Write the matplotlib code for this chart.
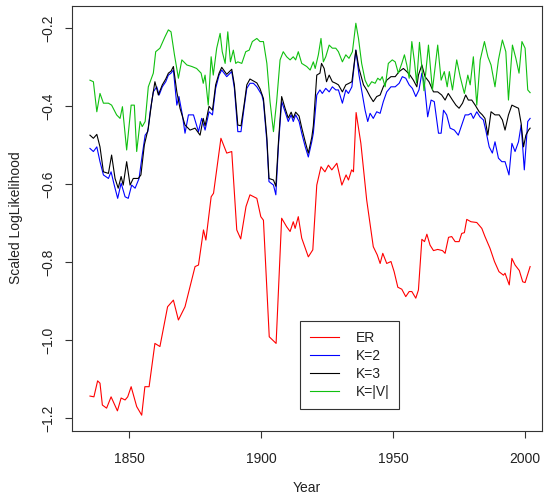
import matplotlib
matplotlib.use("Agg")
import matplotlib.pyplot as plt

plt.rcParams['font.family'] = ['Liberation Sans', 'DejaVu Sans']

# ---- data ----
er_years = [1835.2, 1836.7, 1838.1, 1839.0, 1839.9, 1841.5, 1843.2, 1845.6, 1847.0, 1848.5,
            1849.5, 1850.8, 1852.9, 1854.8, 1856.0, 1857.6, 1859.8, 1861.7, 1864.6, 1866.8,
            1868.7, 1871.2, 1875.0, 1876.3, 1878.2, 1879.1, 1881.1, 1882.0, 1884.8, 1887.0,
            1888.9, 1890.8, 1892.3, 1894.3, 1895.8, 1898.4, 1899.9, 1900.9, 1903.1, 1905.7,
            1907.8, 1909.7, 1911.0, 1912.2, 1912.9, 1914.1, 1915.4, 1917.9, 1919.6, 1921.1,
            1922.7, 1924.2, 1925.5, 1926.8, 1928.7, 1930.6, 1932.2, 1933.1, 1934.3, 1935.0,
            1936.0, 1937.8, 1940.0, 1942.5, 1944.0, 1945.1, 1946.1, 1947.6, 1949.2, 1950.4,
            1951.8, 1953.3, 1954.8, 1956.1, 1957.1, 1958.6, 1959.6, 1960.9, 1961.9, 1962.8,
            1964.0, 1965.3, 1966.9, 1968.7, 1969.7, 1971.0, 1972.2, 1973.5, 1975.0, 1976.0,
            1977.0, 1977.9, 1979.5, 1981.7, 1983.6, 1984.8, 1986.7, 1988.4, 1990.1, 1991.8,
            1992.4, 1994.0, 1995.0, 1996.2, 1997.8, 1999.1, 2000.0, 2001.9]
er_values = [-1.143, -1.145, -1.104, -1.110, -1.166, -1.174, -1.145, -1.181, -1.148, -1.153,
             -1.145, -1.119, -1.170, -1.192, -1.119, -1.119, -1.008, -1.016, -0.914, -0.897,
             -0.948, -0.914, -0.811, -0.807, -0.717, -0.743, -0.632, -0.623, -0.482, -0.520,
             -0.516, -0.717, -0.740, -0.657, -0.627, -0.636, -0.683, -0.692, -0.991, -1.008,
             -0.687, -0.709, -0.721, -0.696, -0.713, -0.683, -0.738, -0.786, -0.768, -0.602,
             -0.555, -0.568, -0.551, -0.563, -0.546, -0.602, -0.576, -0.589, -0.563, -0.568,
             -0.416, -0.495, -0.640, -0.760, -0.781, -0.803, -0.777, -0.803, -0.798, -0.824,
             -0.864, -0.869, -0.888, -0.875, -0.875, -0.892, -0.871, -0.741, -0.747, -0.728,
             -0.756, -0.770, -0.767, -0.770, -0.777, -0.736, -0.734, -0.747, -0.747, -0.726,
             -0.724, -0.690, -0.696, -0.698, -0.713, -0.734, -0.764, -0.798, -0.824, -0.833,
             -0.828, -0.858, -0.790, -0.807, -0.821, -0.850, -0.852, -0.811]

k2_years = [1835.2, 1836.5, 1837.8, 1839.0, 1840.3, 1842.2, 1843.2, 1844.4, 1845.7, 1847.0,
            1848.5, 1849.7, 1851.0, 1852.3, 1853.8, 1855.0, 1856.1, 1857.1, 1858.0, 1859.2,
            1860.5, 1861.4, 1862.6, 1863.9, 1864.9, 1865.9, 1866.8, 1868.1, 1868.9, 1870.2,
            1871.2, 1872.5, 1874.4, 1876.3, 1877.5, 1878.8, 1880.3, 1881.6, 1882.8, 1884.1,
            1885.1, 1887.0, 1888.9, 1889.9, 1891.2, 1892.4, 1893.7, 1894.6, 1895.8, 1897.1,
            1898.4, 1899.6, 1900.3, 1900.9, 1902.2, 1903.0, 1904.7, 1905.6, 1906.6, 1907.8,
            1909.1, 1910.3, 1911.4, 1912.2, 1913.1, 1914.4, 1915.4, 1916.7, 1917.9, 1919.2,
            1919.8, 1921.1, 1922.3, 1923.2, 1924.5, 1925.8, 1927.0, 1928.3, 1929.3, 1930.8,
            1932.1, 1933.1, 1934.4, 1935.9, 1937.1, 1938.4, 1939.4, 1940.4, 1941.3, 1942.5,
            1943.8, 1945.1, 1946.3, 1947.6, 1949.2, 1950.8, 1952.3, 1953.5, 1954.8, 1956.1,
            1957.3, 1958.6, 1959.8, 1960.9, 1961.9, 1963.1, 1964.4, 1965.6, 1967.2, 1968.2,
            1969.1, 1970.3, 1971.6, 1973.2, 1974.7, 1976.0, 1977.3, 1978.5, 1979.5, 1980.4,
            1981.7, 1982.9, 1984.2, 1985.1, 1986.4, 1987.6, 1988.6, 1989.9, 1991.2, 1992.4,
            1993.9, 1995.0, 1996.2, 1997.5, 1998.5, 1999.7, 2001.0, 2001.9]
k2_values = [-0.508, -0.516, -0.504, -0.542, -0.576, -0.585, -0.568, -0.602, -0.636, -0.597,
             -0.632, -0.636, -0.602, -0.610, -0.585, -0.525, -0.474, -0.465, -0.414, -0.363,
             -0.350, -0.371, -0.350, -0.337, -0.320, -0.315, -0.307, -0.397, -0.375, -0.422,
             -0.469, -0.422, -0.422, -0.465, -0.431, -0.461, -0.414, -0.422, -0.354, -0.320,
             -0.307, -0.324, -0.311, -0.354, -0.465, -0.465, -0.397, -0.354, -0.341, -0.341,
             -0.350, -0.363, -0.371, -0.388, -0.491, -0.593, -0.602, -0.627, -0.499, -0.388,
             -0.414, -0.439, -0.422, -0.439, -0.422, -0.439, -0.469, -0.503, -0.530, -0.491,
             -0.469, -0.371, -0.358, -0.367, -0.354, -0.363, -0.350, -0.358, -0.358, -0.392,
             -0.358, -0.367, -0.350, -0.256, -0.320, -0.371, -0.410, -0.439, -0.418, -0.431,
             -0.414, -0.418, -0.388, -0.363, -0.350, -0.350, -0.341, -0.324, -0.328, -0.345,
             -0.354, -0.375, -0.358, -0.315, -0.345, -0.427, -0.384, -0.388, -0.469, -0.469,
             -0.410, -0.422, -0.456, -0.461, -0.474, -0.448, -0.422, -0.422, -0.418, -0.431,
             -0.414, -0.427, -0.435, -0.461, -0.504, -0.520, -0.491, -0.533, -0.542, -0.542,
             -0.576, -0.495, -0.516, -0.491, -0.448, -0.563, -0.439, -0.431]

k3_years = [1835.2, 1836.5, 1837.8, 1839.0, 1840.3, 1842.2, 1843.4, 1844.7, 1845.9, 1847.0,
            1847.8, 1849.1, 1850.4, 1851.6, 1853.5, 1854.5, 1855.8, 1857.3, 1858.6, 1859.8,
            1861.1, 1862.6, 1863.9, 1864.9, 1865.9, 1866.8, 1868.1, 1869.3, 1871.2, 1873.1,
            1875.0, 1876.9, 1878.1, 1878.8, 1880.3, 1881.6, 1882.8, 1884.1, 1885.1, 1887.0,
            1888.9, 1889.9, 1891.2, 1892.4, 1893.7, 1894.6, 1895.8, 1897.1, 1898.4, 1899.6,
            1900.9, 1902.2, 1903.0, 1904.7, 1905.6, 1906.6, 1907.8, 1909.1, 1910.3, 1911.4,
            1912.2, 1913.1, 1914.4, 1915.4, 1916.7, 1917.9, 1919.2, 1919.8, 1921.1, 1922.3,
            1922.9, 1923.9, 1924.8, 1925.8, 1927.0, 1928.3, 1929.3, 1930.8, 1932.1, 1933.3,
            1934.4, 1935.9, 1937.1, 1938.8, 1940.0, 1941.3, 1942.5, 1943.8, 1945.1, 1946.3,
            1947.6, 1949.2, 1950.8, 1952.3, 1953.9, 1955.2, 1956.4, 1957.7, 1959.0, 1959.6,
            1960.9, 1962.1, 1963.6, 1965.3, 1966.9, 1968.4, 1969.7, 1970.9, 1972.5, 1973.8,
            1975.0, 1976.3, 1977.5, 1978.5, 1979.8, 1981.1, 1982.6, 1983.8, 1984.8, 1985.9,
            1987.1, 1988.6, 1990.2, 1991.4, 1992.4, 1993.7, 1995.0, 1996.2, 1997.5, 1998.5,
            1999.4, 2000.3, 2001.3, 2001.9]
k3_values = [-0.474, -0.482, -0.472, -0.504, -0.568, -0.572, -0.525, -0.585, -0.610, -0.580,
             -0.602, -0.542, -0.602, -0.585, -0.585, -0.576, -0.499, -0.456, -0.388, -0.337,
             -0.371, -0.345, -0.330, -0.315, -0.310, -0.298, -0.363, -0.405, -0.448, -0.461,
             -0.456, -0.474, -0.431, -0.450, -0.400, -0.410, -0.345, -0.315, -0.300, -0.318,
             -0.305, -0.345, -0.448, -0.450, -0.390, -0.345, -0.330, -0.335, -0.340, -0.355,
             -0.380, -0.480, -0.585, -0.589, -0.605, -0.490, -0.375, -0.405, -0.430, -0.415,
             -0.430, -0.415, -0.425, -0.455, -0.490, -0.520, -0.480, -0.450, -0.320, -0.315,
             -0.290, -0.303, -0.337, -0.320, -0.337, -0.341, -0.345, -0.363, -0.345, -0.341,
             -0.337, -0.256, -0.303, -0.345, -0.358, -0.375, -0.388, -0.375, -0.371, -0.350,
             -0.333, -0.324, -0.324, -0.311, -0.303, -0.311, -0.320, -0.333, -0.350, -0.320,
             -0.294, -0.324, -0.337, -0.363, -0.363, -0.371, -0.384, -0.367, -0.384, -0.397,
             -0.405, -0.392, -0.371, -0.384, -0.384, -0.397, -0.414, -0.422, -0.431, -0.474,
             -0.414, -0.422, -0.422, -0.435, -0.461, -0.422, -0.397, -0.401, -0.405, -0.444,
             -0.504, -0.474, -0.461, -0.456]

kv_years = [1835.2, 1836.5, 1837.8, 1839.0, 1840.3, 1842.2, 1843.4, 1845.3, 1846.6, 1847.5,
            1849.1, 1850.8, 1852.0, 1852.9, 1854.2, 1855.0, 1856.1, 1857.3, 1859.2, 1860.1,
            1861.7, 1863.6, 1864.9, 1865.9, 1867.2, 1868.7, 1870.0, 1871.9, 1873.8, 1875.6,
            1877.3, 1878.1, 1878.8, 1879.4, 1880.0, 1881.1, 1881.9, 1883.2, 1884.5, 1885.3,
            1886.4, 1887.4, 1888.4, 1889.5, 1890.4, 1891.2, 1892.7, 1894.2, 1895.5, 1896.7,
            1898.4, 1899.6, 1900.9, 1902.2, 1903.4, 1904.7, 1905.9, 1907.2, 1908.4, 1909.7,
            1911.0, 1912.2, 1913.1, 1914.1, 1915.4, 1917.3, 1918.6, 1919.8, 1920.5, 1921.7,
            1922.7, 1923.6, 1924.5, 1925.8, 1927.0, 1928.3, 1929.3, 1930.8, 1932.1, 1933.3,
            1934.6, 1935.9, 1936.9, 1938.1, 1939.4, 1940.6, 1941.9, 1943.2, 1944.2, 1945.1,
            1945.9, 1947.0, 1948.2, 1949.7, 1950.8, 1952.0, 1953.3, 1954.3, 1955.2, 1956.1,
            1957.1, 1958.1, 1958.9, 1960.0, 1960.9, 1961.7, 1963.4, 1964.9, 1966.9, 1968.2,
            1969.4, 1970.5, 1971.3, 1972.5, 1974.1, 1975.4, 1977.0, 1978.3, 1979.2, 1980.4,
            1981.7, 1983.0, 1984.6, 1985.9, 1987.1, 1988.6, 1989.9, 1991.4, 1992.7, 1993.7,
            1995.2, 1996.5, 1997.7, 1998.8, 2000.0, 2001.0, 2001.9]
kv_values = [-0.333, -0.337, -0.414, -0.367, -0.392, -0.392, -0.397, -0.422, -0.431, -0.401,
             -0.512, -0.397, -0.397, -0.516, -0.439, -0.452, -0.439, -0.350, -0.315, -0.260,
             -0.251, -0.222, -0.204, -0.209, -0.268, -0.328, -0.281, -0.294, -0.298, -0.303,
             -0.315, -0.341, -0.320, -0.358, -0.397, -0.273, -0.320, -0.251, -0.213, -0.260,
             -0.290, -0.209, -0.286, -0.256, -0.290, -0.286, -0.290, -0.260, -0.256, -0.234,
             -0.226, -0.234, -0.234, -0.290, -0.388, -0.465, -0.388, -0.281, -0.260, -0.273,
             -0.281, -0.273, -0.281, -0.260, -0.290, -0.298, -0.307, -0.286, -0.303, -0.268,
             -0.226, -0.286, -0.273, -0.243, -0.251, -0.251, -0.260, -0.286, -0.268, -0.277,
             -0.260, -0.187, -0.226, -0.290, -0.333, -0.350, -0.337, -0.341, -0.328, -0.333,
             -0.324, -0.350, -0.290, -0.281, -0.286, -0.315, -0.290, -0.268, -0.294, -0.328,
             -0.234, -0.286, -0.340, -0.236, -0.300, -0.360, -0.243, -0.358, -0.243, -0.333,
             -0.311, -0.350, -0.311, -0.358, -0.281, -0.324, -0.367, -0.320, -0.345, -0.273,
             -0.397, -0.281, -0.234, -0.273, -0.294, -0.350, -0.281, -0.230, -0.260, -0.384,
             -0.243, -0.277, -0.315, -0.234, -0.251, -0.358, -0.365]

series_labels = ["ER", "K=2", "K=3", "K=|V|"]
series_colors = ["#ff0000", "#0000ff", "#000000", "#10c010"]
x_ticks = [1850, 1900, 1950, 2000]
y_ticks = [-1.2, -1.0, -0.8, -0.6, -0.4, -0.2]

# ---- figure ----
fig = plt.figure(figsize=(5.47, 4.97), dpi=100)
ax = fig.add_axes([72/547, 1 - 431/497, (542 - 72)/547, (431 - 6)/497])

series = [(er_years, er_values), (k2_years, k2_values), (k3_years, k3_values), (kv_years, kv_values)]
for (yrs, vals), lab, col in zip(series, series_labels, series_colors):
    ax.plot(yrs, vals, color=col, lw=0.8, label=lab)

ax.set_xlim(1828.4, 2006.4)
ax.set_ylim(-1.2326, -0.1428)
ax.set_xticks(x_ticks)
ax.set_xticklabels([str(t) for t in x_ticks])
ax.set_yticks(y_ticks)
ax.set_yticklabels([f"{t:.1f}".replace("-", "\u2212") for t in y_ticks], rotation=90, va='center')

for sp in ax.spines.values():
    sp.set_linewidth(0.8)
    sp.set_color('#333333')
ax.tick_params(axis='both', direction='out', length=5, width=0.8, color='#333333',
               labelsize=10, labelcolor='#222222')
ax.tick_params(axis='x', pad=10)
ax.tick_params(axis='y', pad=7)

fig.text(307/547, 1 - 488/497, "Year", ha='center', va='center', fontsize=10, color='#222222')
fig.text(16/547, 1 - 218/497, "Scaled LogLikelihood", ha='center', va='center',
         rotation=90, fontsize=10, color='#222222')

leg = ax.legend(loc='upper left', bbox_to_anchor=((300 - 72)/470, (431 - 321)/425),
                borderaxespad=0, frameon=True, fancybox=False, framealpha=1,
                edgecolor='#333333', fontsize=10, handlelength=2.1, handletextpad=1.2,
                labelspacing=0.3, borderpad=0.7)
leg.get_frame().set_linewidth(0.8)
for t in leg.get_texts():
    t.set_color('#222222')

fig.savefig("out.png", dpi=100)
